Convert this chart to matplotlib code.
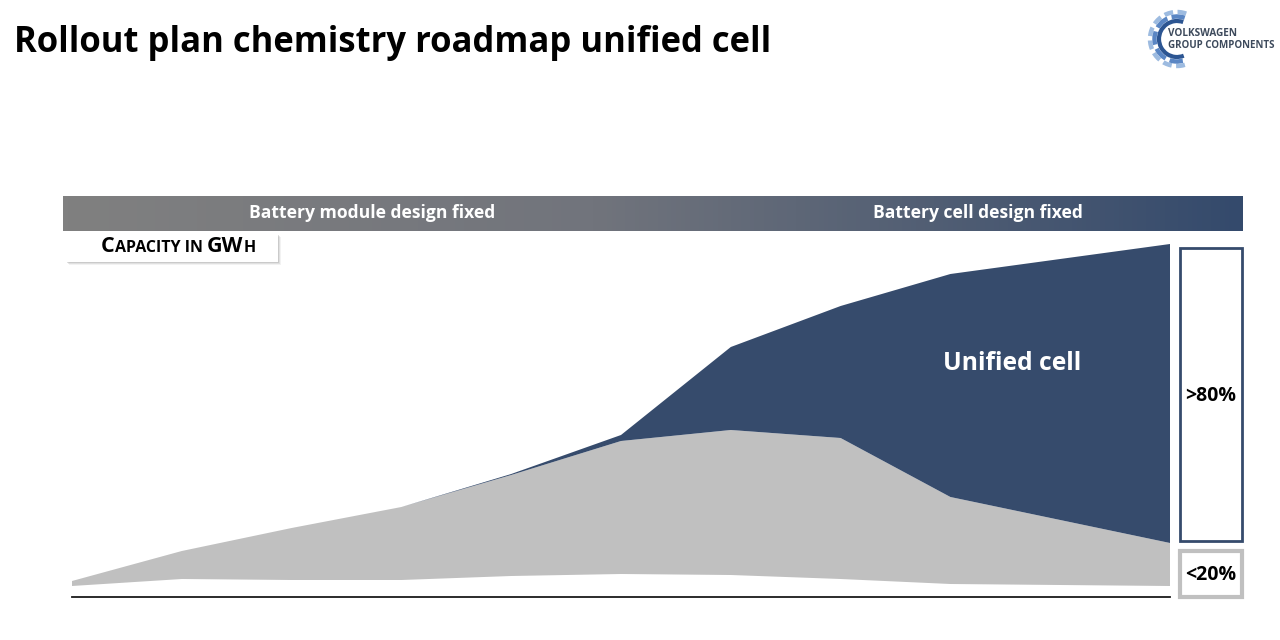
import numpy as np
import matplotlib
matplotlib.use("Agg")
import matplotlib.pyplot as plt
from matplotlib.colors import LinearSegmentedColormap
from matplotlib.patches import Rectangle, Arc
from matplotlib.offsetbox import TextArea, HPacker, AnchoredOffsetbox

# ---------------- data ----------------
years = [2020, 2021, 2022, 2023, 2024, 2025, 2026, 2027, 2028, 2029, 2030]
other_base = [11, 18, 17, 17, 21, 23, 22, 18, 13, 12, 11]
other_cells = [5, 28, 52, 73, 101, 133, 145, 141, 87, 65, 43]
unified_cell = [0, 0, 0, 0, 1, 6, 83, 132, 223, 261, 299]
phase_labels = ["Battery module design fixed", "Battery cell design fixed"]
share_labels = [">80%", "<20%"]
title = "Rollout plan chemistry roadmap unified cell"

NAVY = "#364b6c"
GRAY = "#c0c0c0"
FONT = ["Liberation Sans Narrow", "Open Sans", "DejaVu Sans"]
plt.rcParams["font.family"] = FONT

W, H = 1280, 640
fig = plt.figure(figsize=(12.8, 6.4), dpi=100)
fig.patch.set_facecolor("white")

def fx(x):
    return x / W

def fy(y):
    return 1 - y / H

def fit(t, target_w):
    fig.canvas.draw()
    r = fig.canvas.get_renderer()
    w = t.get_window_extent(r).width
    t.set_fontsize(t.get_fontsize() * target_w / w)

# ---------------- main area chart ----------------
ax = fig.add_axes([fx(72), fy(597), (1170 - 72) / W, 360 / H])
ax.stackplot(years, other_base, other_cells, unified_cell,
             colors=["white", GRAY, NAVY], linewidth=0)
ax.set_xlim(years[0], years[-1])
ax.set_ylim(0, 360)
for s in ["top", "right", "left"]:
    ax.spines[s].set_visible(False)
ax.spines["bottom"].set_color("#1a1a1a")
ax.spines["bottom"].set_linewidth(1.3)
ax.set_xticks([])
ax.set_yticks([])
ax.patch.set_alpha(0)
ut = ax.text(2028.56, 233, "Unified cell", color="white", fontsize=20,
             fontweight="bold", ha="center", va="center")
fit(ut, 138)

# ---------------- gradient header bar ----------------
bar = fig.add_axes([fx(63), fy(231), (1243 - 63) / W, 35 / H])
cmap = LinearSegmentedColormap.from_list(
    "g", [(0, "#808080"), (0.45, "#71747c"), (1, "#344a6c")])
bar.imshow(np.linspace(0, 1, 256)[None, :], cmap=cmap, aspect="auto",
           extent=[0, 1, 0, 1])
bar.set_xlim(0, 1)
bar.set_ylim(0, 1)
bar.axis("off")
b1 = bar.text((372 - 63) / 1180, 0.5, phase_labels[0], color="white",
              fontsize=13, fontweight="bold", ha="center", va="center")
b2 = bar.text((978 - 63) / 1180, 0.5, phase_labels[1], color="white",
              fontsize=13, fontweight="bold", ha="center", va="center")
fit(b1, 244)
b2.set_fontsize(b1.get_fontsize())

# ---------------- title ----------------
tt = fig.text(fx(14), fy(43), title, fontsize=28, fontweight="bold",
              ha="left", va="center", color="black")
fit(tt, 756)

# ---------------- capacity label box ----------------
for i, a in enumerate([0.12, 0.2, 0.3]):
    d = 3 - i
    fig.add_artist(Rectangle((fx(66 + d), fy(262 + d)), 212 / W, 28 / H,
                             transform=fig.transFigure, facecolor="#9a9a9a",
                             edgecolor="none", alpha=a))
fig.add_artist(Rectangle((fx(66), fy(262)), 212 / W, 28 / H,
                         transform=fig.transFigure, facecolor="white",
                         edgecolor="none"))
big, small = 15.5, 11.5
parts = [("C", big), ("APACITY IN ", small), ("GW", big), ("H", small)]
areas = [TextArea(p, textprops=dict(fontsize=s, fontweight="bold",
                                     color="black", family=FONT))
         for p, s in parts]
pack = HPacker(children=areas, align="baseline", pad=0, sep=0)
ab = AnchoredOffsetbox(loc="center left", child=pack, frameon=False,
                       bbox_to_anchor=(fx(101), fy(247)),
                       bbox_transform=fig.transFigure, borderpad=0, pad=0)
fig.add_artist(ab)

# ---------------- share boxes ----------------
fig.add_artist(Rectangle((fx(1180), fy(541)), 62 / W, (541 - 248) / H,
                         transform=fig.transFigure, facecolor="white",
                         edgecolor=NAVY, linewidth=2))
fig.add_artist(Rectangle((fx(1180), fy(597)), 62 / W, (597 - 551) / H,
                         transform=fig.transFigure, facecolor="white",
                         edgecolor=GRAY, linewidth=3))
fig.text(fx(1211), fy(396), share_labels[0], fontsize=14, fontweight="bold",
         ha="center", va="center", color="black")
fig.text(fx(1211), fy(575), share_labels[1], fontsize=14, fontweight="bold",
         ha="center", va="center", color="black")

# ---------------- logo ----------------
lg = fig.add_axes([fx(1138), fy(72), 70 / W, 66 / H])
lg.set_xlim(-35, 35)
lg.set_ylim(-33, 33)
lg.set_aspect("equal")
lg.axis("off")
for r, c, lw, ls in [(27, "#9dbbe0", 3.2, (0, (2, 1))),
                     (22.5, "#5a86c4", 3.2, (0, (3, 1))),
                     (18, "#2c5592", 3.0, "-")]:
    lg.add_patch(Arc((4, 0), 2 * r, 2 * r, theta1=70, theta2=292, color=c,
                     lw=lw, linestyle=ls))
fig.text(fx(1168), fy(33), "VOLKSWAGEN", fontsize=7.2, fontweight="bold",
         color="#3d4a5c", ha="left", va="center")
fig.text(fx(1168), fy(46), "GROUP COMPONENTS", fontsize=7.0,
         fontweight="bold", color="#3d4a5c", ha="left", va="center")

fig.savefig("out.png", dpi=100)
